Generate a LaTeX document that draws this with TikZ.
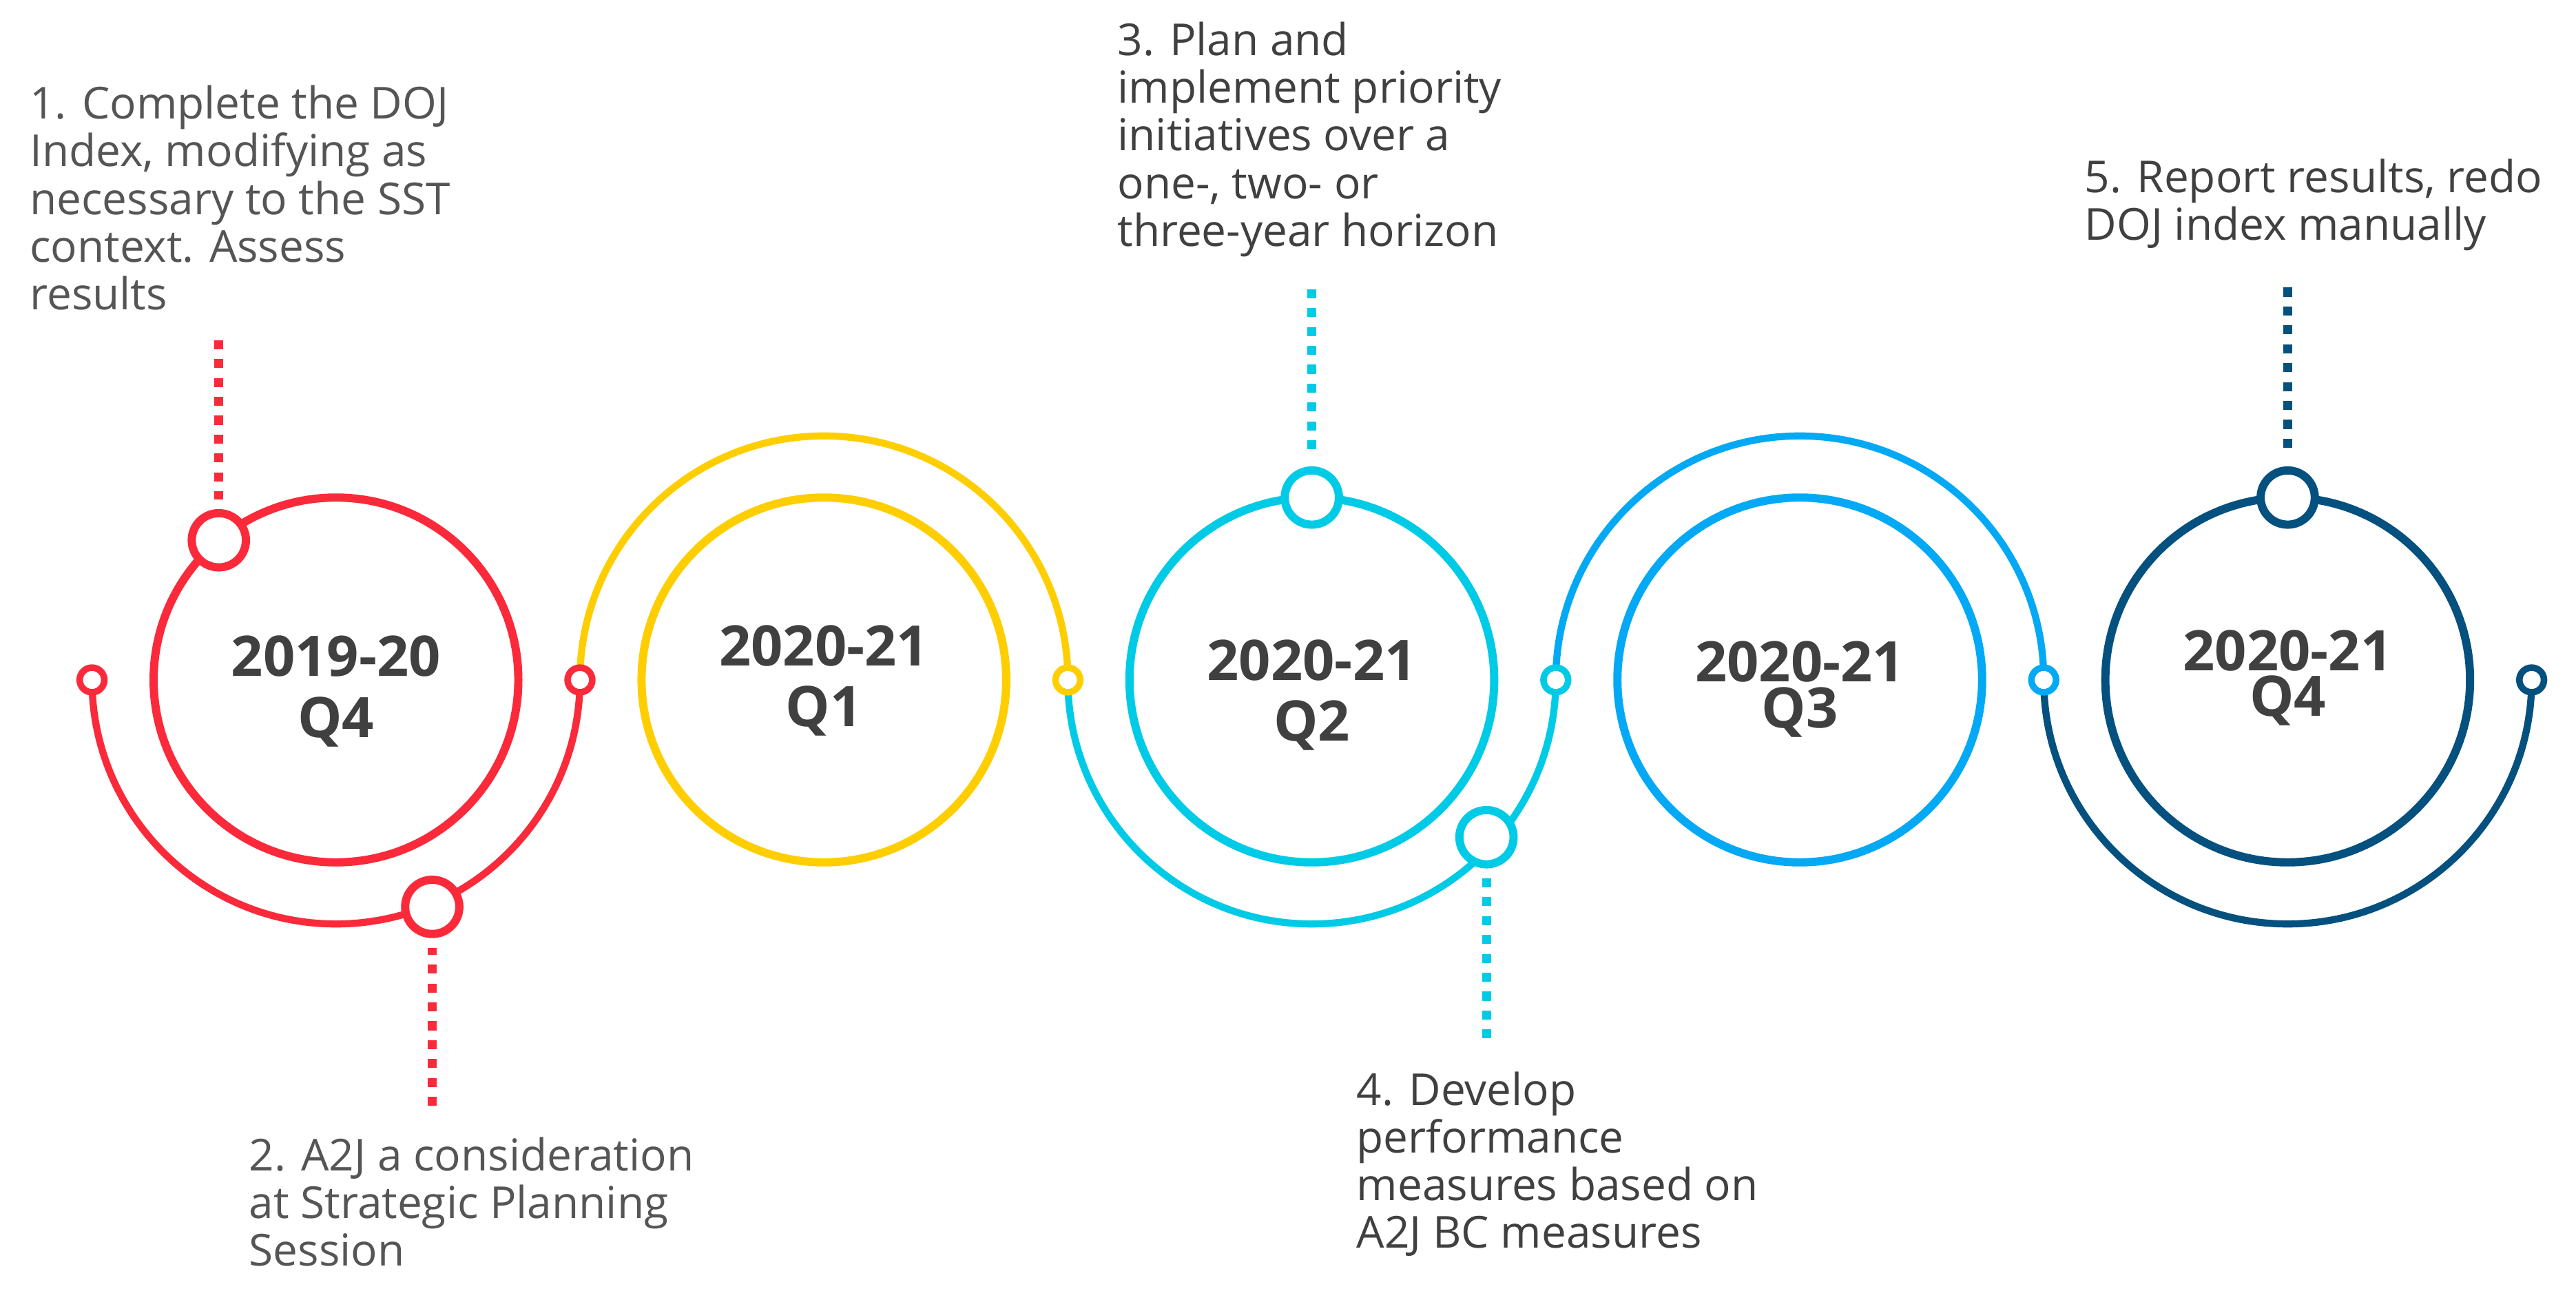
\documentclass[tikz,border=0pt]{standalone}
\usepackage{fontspec}
\setmainfont{Open Sans}
\definecolor{rouge}{HTML}{FA2A3A}
\definecolor{jaune}{HTML}{FFCE00}
\definecolor{cyan}{HTML}{00CBE6}
\definecolor{bleu}{HTML}{03A9F4}
\definecolor{marine}{HTML}{04507E}
\definecolor{grisclair}{HTML}{555555}
\definecolor{grisfonce}{HTML}{404040}

\begin{document}
\begin{tikzpicture}[x=1pt, y=1pt]
\tikzset{anneau/.style={draw=#1, line width=5pt, circle, minimum size=222pt, inner sep=0pt},
  arcext/.style={draw=#1, line width=4.3pt},
  petitrond/.style={draw=#1, line width=4pt, fill=white, circle, minimum size=15pt, inner sep=0pt},
  grosrond/.style={draw=#1, line width=5pt, fill=white, circle, minimum size=33pt, inner sep=0pt},
  tirets/.style={draw=#1, line width=5.4pt, dash pattern=on 5.5pt off 6pt, shorten >=6pt},
  annee/.style={font=\fontsize{34}{37}\selectfont\bfseries, text=grisfonce, align=center, anchor=base, inner sep=0pt},
  etape/.style={font=\fontsize{26.8}{29}\selectfont, text=#1, align=left, anchor=base west, inner sep=0pt}}
\useasboundingbox (0,0) rectangle (1568,797.8);
% les cinq trimestres
\node[anneau=rouge] (C1) at (204.5,384) {};
\node[anneau=jaune] (C2) at (501.5,384) {};
\node[anneau=cyan] (C3) at (798.5,384) {};
\node[anneau=bleu] (C4) at (1095.5,384) {};
\node[anneau=marine] (C5) at (1392.5,384) {};
\coordinate (E0) at (56,384);
\coordinate (E1) at (353,384);
\coordinate (E2) at (650,384);
\coordinate (E3) at (947,384);
\coordinate (E4) at (1244,384);
\coordinate (E5) at (1541,384);
\draw[arcext=rouge] (E0) arc[start angle=180, end angle=360, radius=148.5];
\draw[arcext=jaune] (E1) arc[start angle=180, end angle=0, radius=148.5];
\draw[arcext=cyan] (E2) arc[start angle=180, end angle=360, radius=148.5];
\draw[arcext=bleu] (E3) arc[start angle=180, end angle=0, radius=148.5];
\draw[arcext=marine] (E4) arc[start angle=180, end angle=360, radius=148.5];
\node[petitrond=rouge] (P0) at (E0) {};
\node[petitrond=rouge] (P1) at (E1) {};
\node[petitrond=jaune] (P2) at (E2) {};
\node[petitrond=cyan] (P3) at (E3) {};
\node[petitrond=bleu] (P4) at (E4) {};
\node[petitrond=marine] (P5) at (E5) {};
% reperes des etapes
\node[grosrond=rouge] (M1) at (133.2,469) {};
\node[grosrond=rouge] (M2) at (263.1,245.9) {};
\node[grosrond=cyan] (M3) at (798.5,495) {};
\node[grosrond=cyan] (M4) at (904.8,288.3) {};
\node[grosrond=marine] (M5) at (1392.5,495) {};
\coordinate (B1) at (133.2,590.8);
\coordinate (B2) at (263.1,124.8);
\coordinate (B3) at (798.5,621.8);
\coordinate (B4) at (904.8,165.8);
\coordinate (B5) at (1392.5,622.8);
\draw[tirets=rouge] (B1) -- (M1);
\draw[tirets=rouge] (B2) -- (M2);
\draw[tirets=cyan] (B3) -- (M3);
\draw[tirets=cyan] (B4) -- (M4);
\draw[tirets=marine] (B5) -- (M5);
% textes (base = derniere ligne)
\node[annee] (L1) at (204.5,349.1) {2019-20\\Q4};
\node[annee] (L2) at (501.5,355.8) {2020-21\\Q1};
\node[annee] (L3) at (798.5,346.8) {2020-21\\Q2};
\node[annee] (L4) at (1095.5,354.8) {2020-21\\[-9pt]Q3};
\node[annee] (L5) at (1392.5,361.8) {2020-21\\[-9pt]Q4};
\node[etape=grisclair] (T1) at (18,609.4) {1. Complete the DOJ\\Index, modifying as\\necessary to the SST\\context. Assess\\results};
\node[etape=grisclair] (T2) at (151.5,27.4) {2. A2J a consideration\\at Strategic Planning\\Session};
\node[etape=grisfonce] (T3) at (680,648) {3. Plan and\\implement priority\\initiatives over a\\one-, two- or\\three-year horizon};
\node[etape=grisfonce] (T4) at (825.6,38.3) {4. Develop\\performance\\measures based on\\A2J BC measures};
\node[etape=grisfonce] (T5) at (1268.8,651.8) {5. Report results, redo\\DOJ index manually};
\end{tikzpicture}
\end{document}
